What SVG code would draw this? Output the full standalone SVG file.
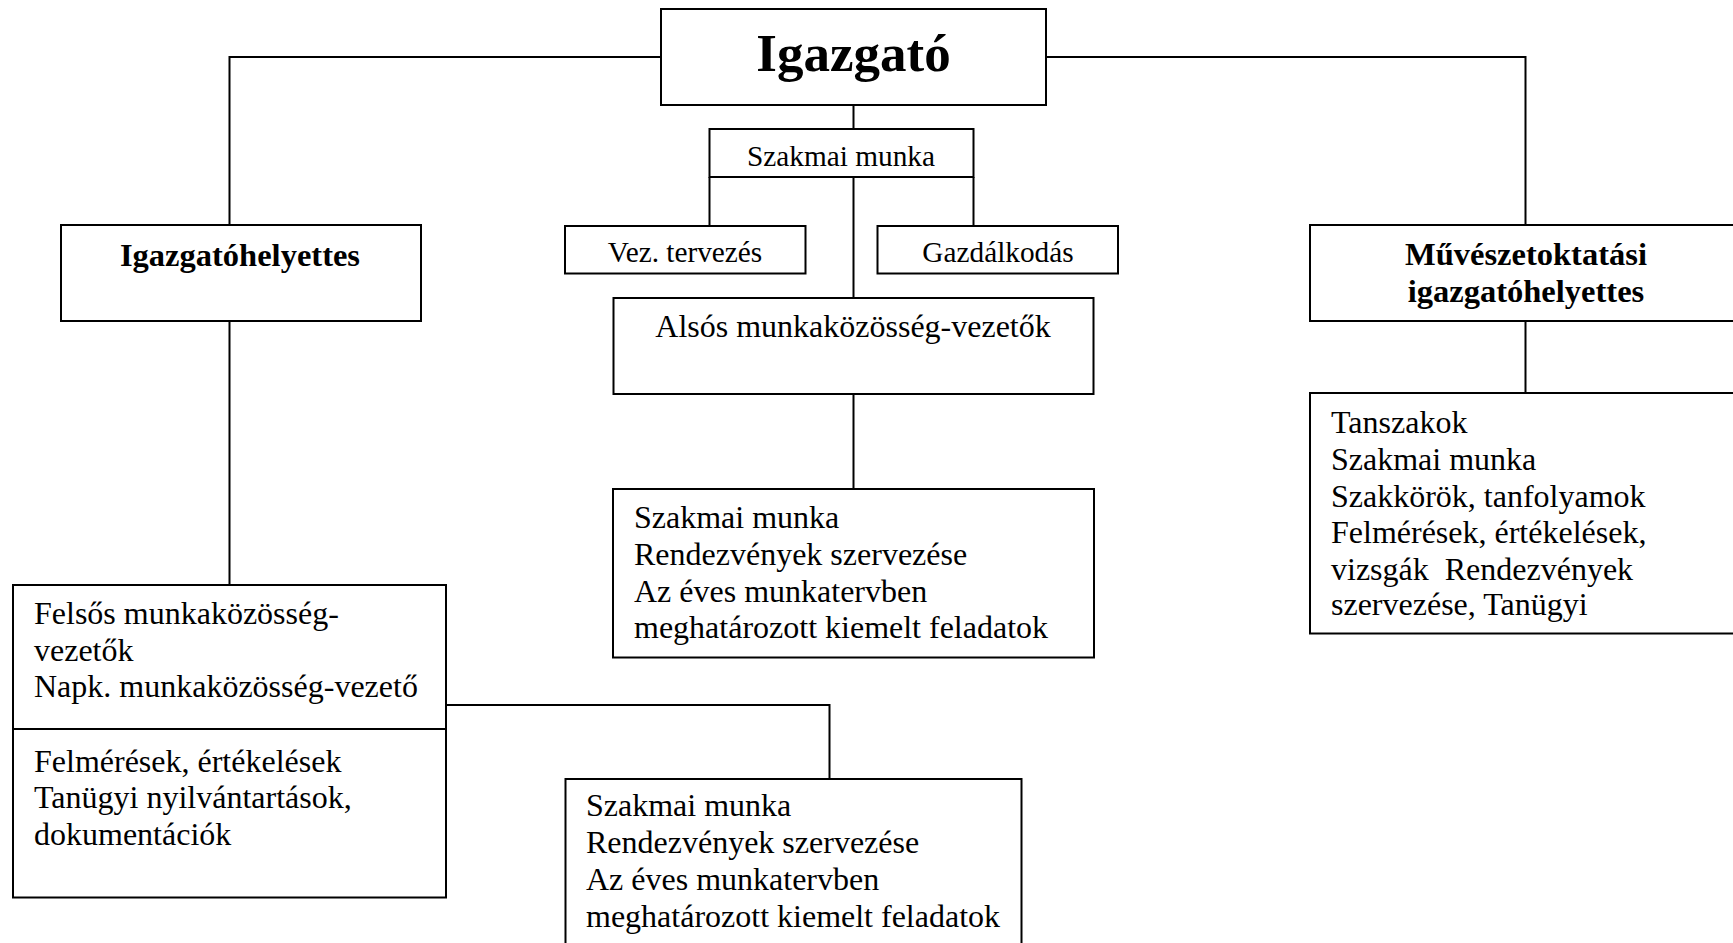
<svg xmlns="http://www.w3.org/2000/svg" width="1733" height="943" viewBox="0 0 1733 943">
<style>
.box{fill:#fff;stroke:#000;stroke-width:2}
.ln{fill:none;stroke:#000;stroke-width:2}
text{font-family:"Liberation Serif","Times New Roman",serif;fill:#000}
.r{font-size:32px}
.s{font-size:29.3px}
.b{font-size:32.5px;font-weight:bold}
.t{font-size:53px;font-weight:bold}
</style>
<rect width="1733" height="943" fill="#fff"/>
<g id="connectors">
<polyline class="ln" points="661,57 229.5,57 229.5,225"/>
<polyline class="ln" points="1046,57 1525.5,57 1525.5,225"/>
<line class="ln" x1="853.5" y1="105" x2="853.5" y2="129"/>
<line class="ln" x1="709.5" y1="177" x2="709.5" y2="226"/>
<line class="ln" x1="973.5" y1="177" x2="973.5" y2="226"/>
<line class="ln" x1="853.5" y1="177" x2="853.5" y2="298"/>
<line class="ln" x1="853.5" y1="394" x2="853.5" y2="489"/>
<line class="ln" x1="229.5" y1="321" x2="229.5" y2="585"/>
<line class="ln" x1="1525.5" y1="321" x2="1525.5" y2="393"/>
<polyline class="ln" points="446,705 829.5,705 829.5,779"/>
</g>
<g id="igazgato">
<rect class="box" x="661" y="9" width="385" height="96"/>
<text class="t" x="853.5" y="71" text-anchor="middle">Igazgató</text>
</g>
<g id="szakmai-munka">
<rect class="box" x="709.5" y="129" width="264" height="48"/>
<text class="s" x="841" y="166" text-anchor="middle">Szakmai munka</text>
</g>
<g id="vez-tervezes">
<rect class="box" x="565" y="226" width="240.5" height="47.5"/>
<text class="s" x="685" y="261.5" text-anchor="middle">Vez. tervezés</text>
</g>
<g id="gazdalkodas">
<rect class="box" x="877.5" y="226" width="240.5" height="47.5"/>
<text class="s" x="998" y="261.5" text-anchor="middle">Gazdálkodás</text>
</g>
<g id="igazgatohelyettes">
<rect class="box" x="61" y="225" width="360" height="96"/>
<text class="b" x="240" y="266" text-anchor="middle">Igazgatóhelyettes</text>
</g>
<g id="muveszetoktatasi">
<rect class="box" x="1310" y="225" width="432" height="96"/>
<text class="b" x="1526" y="265" text-anchor="middle">Művészetoktatási</text>
<text class="b" x="1526" y="301.5" text-anchor="middle">igazgatóhelyettes</text>
</g>
<g id="also-mk">
<rect class="box" x="613.5" y="298" width="480" height="96"/>
<text class="r" x="853" y="337" text-anchor="middle">Alsós munkaközösség-vezetők</text>
</g>
<g id="also-feladatok">
<rect class="box" x="613" y="489" width="481" height="168.5"/>
<text class="r" x="634" y="528">Szakmai munka</text>
<text class="r" x="634" y="565">Rendezvények szervezése</text>
<text class="r" x="634" y="601.5">Az éves munkatervben</text>
<text class="r" x="634" y="638">meghatározott kiemelt feladatok</text>
</g>
<g id="tanszakok">
<rect class="box" x="1310" y="393" width="432" height="240.5"/>
<text class="r" x="1331" y="433">Tanszakok</text>
<text class="r" x="1331" y="470">Szakmai munka</text>
<text class="r" x="1331" y="506.5">Szakkörök, tanfolyamok</text>
<text class="r" x="1331" y="543">Felmérések, értékelések,</text>
<text class="r" x="1331" y="579.5">vizsgák&#160; Rendezvények</text>
<text class="r" x="1331" y="615">szervezése, Tanügyi</text>
</g>
<g id="felsos-mk">
<rect class="box" x="13" y="585" width="433" height="312.5"/>
<line class="ln" x1="13" y1="729" x2="446" y2="729"/>
<text class="r" x="34" y="624">Felsős munkaközösség-</text>
<text class="r" x="34" y="660.5">vezetők</text>
<text class="r" x="34" y="697">Napk. munkaközösség-vezető</text>
<text class="r" x="34" y="771.5">Felmérések, értékelések</text>
<text class="r" x="34" y="808">Tanügyi nyilvántartások,</text>
<text class="r" x="34" y="845">dokumentációk</text>
</g>
<g id="felso-feladatok">
<rect class="box" x="565.5" y="779" width="456" height="180"/>
<text class="r" x="586" y="816">Szakmai munka</text>
<text class="r" x="586" y="853">Rendezvények szervezése</text>
<text class="r" x="586" y="890">Az éves munkatervben</text>
<text class="r" x="586" y="926.5">meghatározott kiemelt feladatok</text>
</g>
</svg>
